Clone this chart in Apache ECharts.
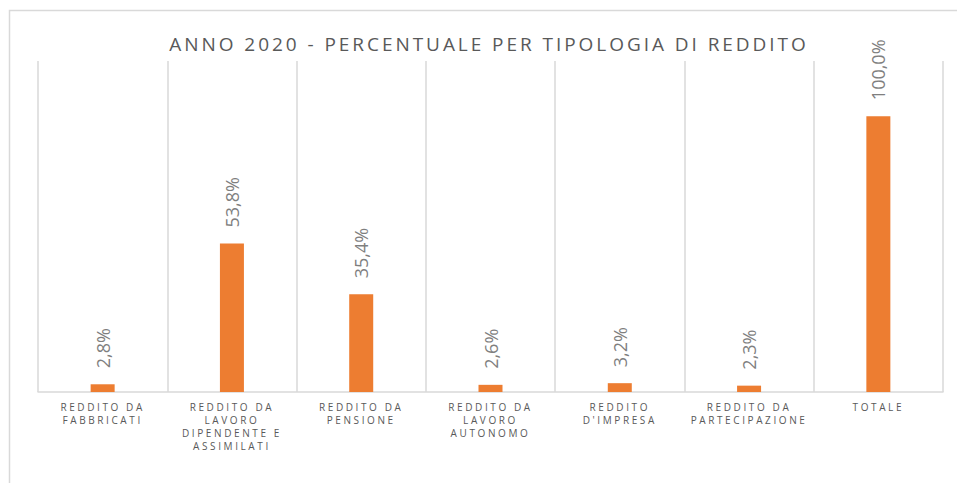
<!DOCTYPE html>
<html>
<head>
<meta charset="utf-8">
<script src="https://cdn.jsdelivr.net/npm/echarts@6/dist/echarts.min.js"></script>
<style>
  html, body { margin: 0; padding: 0; background: #ffffff; }
  #chart { width: 957px; height: 483px; }
  #chart text[style*=" 19px"], #chart text[style*=":19px"] { letter-spacing: 2.95px; }
  #chart text[style*=" 10px"], #chart text[style*=":10px"] { letter-spacing: 2.6px; }
</style>
</head>
<body>
<div id="chart"></div>
<script>
const titleText = 'ANNO 2020 - PERCENTUALE PER TIPOLOGIA DI REDDITO';
const categories = [
  'REDDITO DA\nFABBRICATI',
  'REDDITO DA\nLAVORO\nDIPENDENTE E\nASSIMILATI',
  'REDDITO DA\nPENSIONE',
  'REDDITO DA\nLAVORO\nAUTONOMO',
  'REDDITO\nD\'IMPRESA',
  'REDDITO DA\nPARTECIPAZIONE',
  'TOTALE'
];
const values = [2.8, 53.8, 35.4, 2.6, 3.2, 2.3, 100.0];

const chart = echarts.init(document.getElementById('chart'), null, { renderer: 'svg' });
chart.setOption({
  animation: false,
  backgroundColor: '#ffffff',
  title: {
    text: titleText,
    left: 489,
    textAlign: 'center',
    top: 33,
    padding: 0,
    textStyle: { fontFamily: 'Open Sans', fontSize: 19, fontWeight: 'normal', color: '#595959', lineHeight: 22 }
  },
  graphic: [{
    type: 'rect',
    shape: { x: 9.5, y: 10.5, width: 1200, height: 1200 },
    style: { fill: 'none', stroke: '#d9d9d9', lineWidth: 1.5 },
    silent: true,
    z: -10
  }],
  grid: { left: 38, right: 14, top: 61, bottom: 91, containLabel: false },
  xAxis: {
    type: 'category',
    data: categories,
    axisLine: { show: true, lineStyle: { color: '#d9d9d9', width: 1.5 } },
    axisTick: { show: false },
    splitLine: { show: true, lineStyle: { color: '#d9d9d9', width: 1.5 } },
    axisLabel: {
      interval: 0,
      margin: 8,
      fontFamily: 'Open Sans',
      fontSize: 10,
      lineHeight: 13.2,
      color: '#595959'
    }
  },
  yAxis: {
    type: 'value',
    min: 0,
    max: 120,
    show: false,
    splitLine: { show: false }
  },
  series: [{
    type: 'bar',
    data: values,
    barWidth: 24,
    itemStyle: { color: '#ED7D31' },
    label: {
      show: true,
      position: 'top',
      rotate: 90,
      align: 'left',
      verticalAlign: 'middle',
      distance: 16,
      fontFamily: 'Open Sans',
      fontSize: 18,
      color: '#7f7f7f',
      formatter: p => p.value.toFixed(1).replace('.', ',') + '%'
    }
  }]
});
</script>
</body>
</html>
